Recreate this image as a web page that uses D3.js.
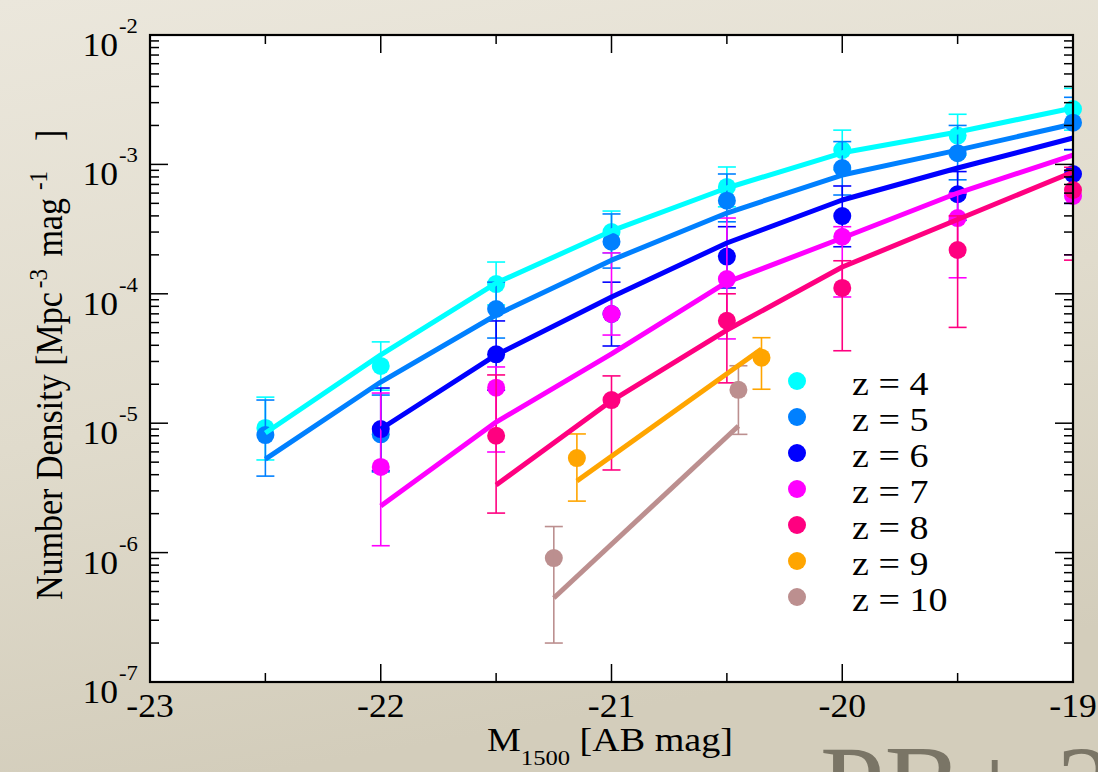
<!DOCTYPE html>
<html>
<head>
<meta charset="utf-8">
<script src="https://cdn.jsdelivr.net/npm/d3@7"></script>
<style>
  html, body { margin: 0; padding: 0; }
  body { width: 1098px; height: 772px; overflow: hidden; }
  svg { display: block; }
  text { font-family: "Liberation Serif", "DejaVu Serif", serif; fill: #000; }
</style>
</head>
<body>
<svg id="chart" width="1098" height="772"></svg>
<script>
// UV luminosity function, number density per magnitude bin, z = 4 .. 10

const xTicks = [-23, -22, -21, -20, -19];
const yTickExps = [-7, -6, -5, -4, -3, -2];

const redshifts = [4, 5, 6, 7, 8, 9, 10];
const colors = ["#00ffff", "#0080ff", "#0000ff", "#ff00ff", "#ff0080", "#ffa500", "#bc8f8f"];

// z = 4
const z4Mag = [-22.5, -22, -21.5, -21, -20.5, -20, -19.5, -19];
const z4Phi = [9.2e-6, 2.77e-5, 1.19e-4, 3.0e-4, 6.7e-4, 1.29e-3, 1.67e-3, 2.68e-3];
const z4Lo  = [5.2e-6, 1.8e-5, 8.2e-5, 2.07e-4, 4.7e-4, 9.1e-4, 1.18e-3, 1.84e-3];
const z4Hi  = [1.59e-5, 4.25e-5, 1.76e-4, 4.36e-4, 9.55e-4, 1.84e-3, 2.44e-3, 3.87e-3];
const z4Fit = [8.4e-6, 3.37e-5, 1.21e-4, 3.06e-4, 6.57e-4, 1.23e-3, 1.78e-3, 2.73e-3];

// z = 5
const z5Mag = [-22.5, -22, -21.5, -21, -20.5, -20, -19.5, -19];
const z5Phi = [8.1e-6, 8.2e-6, 7.63e-5, 2.53e-4, 5.24e-4, 9.38e-4, 1.22e-3, 2.10e-3];
const z5Lo  = [3.9e-6, 4.2e-6, 4.55e-5, 1.58e-4, 3.6e-4, 5.8e-4, 7.6e-4, 1.3e-3];
const z5Hi  = [1.51e-5, 1.65e-5, 1.23e-4, 4.14e-4, 8.43e-4, 1.50e-3, 2.0e-3, 3.3e-3];
const z5Fit = [5.28e-6, 2.08e-5, 6.86e-5, 1.82e-4, 4.21e-4, 8.28e-4, 1.29e-3, 2.05e-3];

// z = 6
const z6Mag = [-22, -21.5, -21, -20.5, -20, -19.5, -19];
const z6Phi = [9.0e-6, 3.41e-5, 6.98e-5, 1.94e-4, 3.99e-4, 5.88e-4, 8.43e-4];
const z6Lo  = [4.3e-6, 1.8e-5, 3.95e-5, 1.11e-4, 2.31e-4, 3.7e-4, 5.0e-4];
const z6Hi  = [1.87e-5, 6.17e-5, 1.23e-4, 3.30e-4, 6.81e-4, 8.8e-4, 1.3e-3];
const z6Fit = [9.02e-6, 3.37e-5, 9.45e-5, 2.47e-4, 5.31e-4, 9.38e-4, 1.60e-3];

// z = 7
const z7Mag = [-22, -21.5, -21, -20.5, -20, -19.5, -19];
const z7Phi = [4.59e-6, 1.88e-5, 6.98e-5, 1.30e-4, 2.76e-4, 3.85e-4, 5.70e-4];
const z7Lo  = [1.13e-6, 5.99e-6, 4.8e-5, 4.48e-5, 9.45e-5, 1.33e-4, 2.0e-4];
const z7Hi  = [1.71e-5, 2.72e-5, 2.07e-4, 3.85e-4, 3.30e-4, 6.0e-4, 9.0e-4];
const z7Fit = [2.29e-6, 1.02e-5, 3.43e-5, 1.23e-4, 2.70e-4, 6.01e-4, 1.18e-3];

// z = 8
const z8Mag = [-21.5, -21, -20.5, -20, -19.5, -19];
const z8Phi = [8.0e-6, 1.51e-5, 6.19e-5, 1.11e-4, 2.18e-4, 6.34e-4];
const z8Lo  = [2.02e-6, 4.35e-6, 2.05e-5, 3.63e-5, 5.5e-5, 1.82e-4];
const z8Hi  = [2.36e-5, 2.32e-5, 1.0e-4, 1.8e-4, 4.0e-4, 9.5e-4];
const z8Fit = [3.33e-6, 1.49e-5, 5.25e-5, 1.61e-4, 3.75e-4, 8.73e-4];

// z = 9
const z9Mag = [-21.15, -20.35];
const z9Phi = [5.38e-6, 3.21e-5];
const z9Lo  = [2.5e-6, 1.83e-5];
const z9Hi  = [8.26e-6, 4.58e-5];
const z9Fit = [3.57e-6, 3.74e-5];

// z = 10
const z10Mag = [-21.25, -20.45];
const z10Phi = [9.08e-7, 1.81e-5];
const z10Lo  = [2.0e-7, 8.2e-6];
const z10Hi  = [1.59e-6, 2.78e-5];
const z10Fit = [4.46e-7, 9.51e-6];

const sets = [
  [z4Mag, z4Phi, z4Lo, z4Hi, z4Fit],
  [z5Mag, z5Phi, z5Lo, z5Hi, z5Fit],
  [z6Mag, z6Phi, z6Lo, z6Hi, z6Fit],
  [z7Mag, z7Phi, z7Lo, z7Hi, z7Fit],
  [z8Mag, z8Phi, z8Lo, z8Hi, z8Fit],
  [z9Mag, z9Phi, z9Lo, z9Hi, z9Fit],
  [z10Mag, z10Phi, z10Lo, z10Hi, z10Fit]
].map((s, i) => ({
  z: redshifts[i],
  color: colors[i],
  pts: s[0].map((m, j) => ({ m, phi: s[1][j], lo: s[2][j], hi: s[3][j], fit: s[4][j] }))
}));

const W = 1098, H = 772;
const pLeft = 150, pRight = 1073, pTop = 35, pBottom = 682;
const WIDEN = 1.1; // glyphs are set slightly wide

const svg = d3.select("#chart");

// parchment backdrop
const defs = svg.append("defs");
const bg = defs.append("linearGradient").attr("id", "paper")
  .attr("x1", 0).attr("y1", 0).attr("x2", 0.25).attr("y2", 1);
bg.append("stop").attr("offset", "0%").attr("stop-color", "#ebe7dc");
bg.append("stop").attr("offset", "55%").attr("stop-color", "#e0dbcc");
bg.append("stop").attr("offset", "100%").attr("stop-color", "#d3cdbb");
svg.append("rect").attr("width", W).attr("height", H).attr("fill", "url(#paper)");

defs.append("clipPath").attr("id", "plotClip")
  .append("rect").attr("x", pLeft).attr("y", pTop)
  .attr("width", pRight - pLeft).attr("height", pBottom - pTop);

// wide horizontal text helper
function wideText(parent, px, py, size, str, anchor, sx) {
  return parent.append("text")
    .attr("transform", `translate(${px},${py}) scale(${sx || WIDEN},1)`)
    .attr("text-anchor", anchor || "start")
    .style("font-size", size + "px")
    .text(str);
}

// watermark at lower right
wideText(svg, 820, 826, 116, "PB+ 20", "start", 1.0).style("fill", "#7a7566");

const x = d3.scaleLinear().domain([-23, -19]).range([pLeft, pRight]);
const y = d3.scaleLog().domain([1e-7, 1e-2]).range([pBottom, pTop]);

// plot panel
svg.append("rect")
  .attr("x", pLeft).attr("y", pTop)
  .attr("width", pRight - pLeft).attr("height", pBottom - pTop)
  .attr("fill", "#fff");

// data: points and error bars, one redshift after another
const dataG = svg.append("g");
sets.forEach(s => {
  const g = dataG.append("g");
  g.selectAll("circle").data(s.pts).join("circle")
    .attr("cx", d => x(d.m)).attr("cy", d => y(d.phi))
    .attr("r", 9).attr("fill", s.color);
  const eb = g.append("g").attr("clip-path", "url(#plotClip)")
    .attr("stroke", s.color).attr("stroke-width", 1.6).attr("fill", "none");
  eb.selectAll("line.v").data(s.pts).join("line").attr("class", "v")
    .attr("x1", d => x(d.m)).attr("x2", d => x(d.m))
    .attr("y1", d => y(d.hi)).attr("y2", d => y(d.lo));
  eb.selectAll("line.t").data(s.pts).join("line").attr("class", "t")
    .attr("x1", d => x(d.m) - 9).attr("x2", d => x(d.m) + 9)
    .attr("y1", d => y(d.hi)).attr("y2", d => y(d.hi));
  eb.selectAll("line.b").data(s.pts).join("line").attr("class", "b")
    .attr("x1", d => x(d.m) - 9).attr("x2", d => x(d.m) + 9)
    .attr("y1", d => y(d.lo)).attr("y2", d => y(d.lo));
});

// fitted luminosity functions on top
const line = d3.line().x(d => x(d.m)).y(d => y(d.fit));
sets.forEach(s => {
  svg.append("path").datum(s.pts)
    .attr("d", line)
    .attr("fill", "none")
    .attr("stroke", s.color)
    .attr("stroke-width", 5)
    .attr("stroke-linejoin", "round");
});

// axes with inward ticks on all four sides
const xMinor = d3.range(-23, -18.9, 0.5).filter(v => !xTicks.includes(v));
const yMinor = [];
for (let e = -7; e < -2; e++) for (let k = 2; k <= 9; k++) yMinor.push(k * Math.pow(10, e));
const yMajor = yTickExps.map(e => Math.pow(10, e));

const axG = svg.append("g").attr("stroke", "#000");
function tickSet(vals, len, horizontal) {
  vals.forEach(v => {
    if (horizontal) {
      const px = x(v);
      axG.append("line").attr("x1", px).attr("x2", px).attr("y1", pBottom).attr("y2", pBottom - len).attr("stroke-width", 1.5);
      axG.append("line").attr("x1", px).attr("x2", px).attr("y1", pTop).attr("y2", pTop + len).attr("stroke-width", 1.5);
    } else {
      const py = y(v);
      axG.append("line").attr("x1", pLeft).attr("x2", pLeft + len).attr("y1", py).attr("y2", py).attr("stroke-width", 1.5);
      axG.append("line").attr("x1", pRight).attr("x2", pRight - len).attr("y1", py).attr("y2", py).attr("stroke-width", 1.5);
    }
  });
}
tickSet(xTicks, 18, true);
tickSet(xMinor, 9, true);
tickSet(yMajor, 18, false);
tickSet(yMinor, 9, false);

svg.append("rect")
  .attr("x", pLeft).attr("y", pTop)
  .attr("width", pRight - pLeft).attr("height", pBottom - pTop)
  .attr("fill", "none").attr("stroke", "#000").attr("stroke-width", 2.2);

// tick labels
const xl = svg.append("g");
xTicks.forEach(v => wideText(xl, x(v), 717, 33, String(v), "middle", 1.08));

const yl = svg.append("g");
yTickExps.forEach(e => {
  const py = y(Math.pow(10, e));
  wideText(yl, 118, py + 21, 33, "10", "end", 1.08);
  wideText(yl, 119, py - 2, 21, String(e), "start", 1.08);
});

// axis titles
const xt = svg.append("text")
  .attr("transform", `translate(487,751) scale(1.12,1)`)
  .style("font-size", "34px");
xt.append("tspan").text("M");
xt.append("tspan").attr("dy", 14).style("font-size", "22px").text("1500");
xt.append("tspan").attr("dy", -14).text(" [AB mag]");

const yt = svg.append("text")
  .attr("transform", "translate(62,600) rotate(-90) scale(1,1.1)")
  .style("font-size", "34px");
yt.append("tspan").text("Number Density [Mpc");
yt.append("tspan").attr("dy", -14).attr("dx", 4).style("font-size", "23px").text("-3");
yt.append("tspan").attr("dy", 14).attr("dx", 4).text(" mag");
yt.append("tspan").attr("dy", -14).attr("dx", 8).style("font-size", "23px").text("-1");
yt.append("tspan").attr("dy", 14).attr("dx", 30).text("]");

// legend
const lg = svg.append("g");
sets.forEach((s, i) => {
  const ly = 381 + i * 36;
  lg.append("circle").attr("cx", 797).attr("cy", ly).attr("r", 9).attr("fill", s.color);
  wideText(lg, 852, ly + 14, 34, "z = " + s.z, "start", 1.12);
});
</script>
</body>
</html>
